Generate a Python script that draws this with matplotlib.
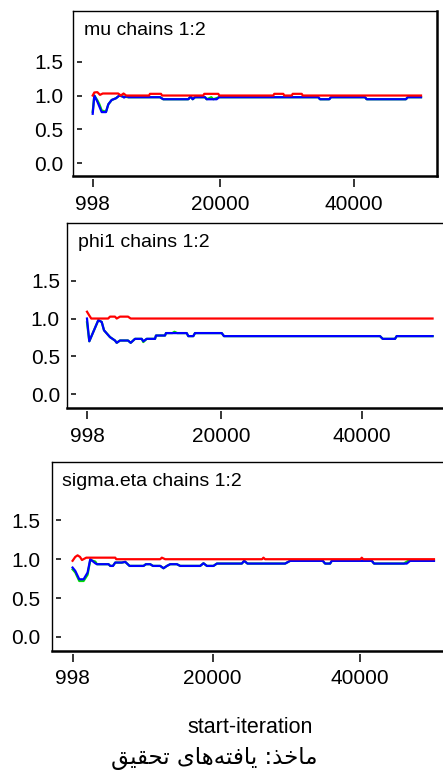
import matplotlib
matplotlib.use('Agg')
import matplotlib.pyplot as plt
from matplotlib.transforms import offset_copy

plt.rcParams['font.family'] = ['Liberation Sans', 'DejaVu Sans']

W, H = 443, 774

# ---------------- data ----------------
x_ticks = [998, 20000, 40000]
x_tick_labels = ['998', '20000', '40000']
y_ticks = [0.0, 0.5, 1.0, 1.5]
y_tick_labels = ['0.0', '0.5', '1.0', '1.5']

titles = ['mu chains 1:2', 'phi1 chains 1:2', 'sigma.eta chains 1:2']

# mu
mu_blue_it = [998, 1240, 1690, 2340, 2980, 3330, 3830, 4480, 4970, 5475, 5670, 6070, 6310,
              11040, 11530, 15270, 15620, 15920, 16260, 17760, 18010, 19500, 19850,
              34670, 34920, 36310, 36560, 41640, 41890, 47750, 48010, 50000]
mu_blue = [0.73, 1.0, 0.91, 0.755, 0.755, 0.87, 0.934, 0.96, 1.0, 0.985, 0.97, 0.99, 0.975,
           0.975, 0.945, 0.945, 0.985, 0.945, 0.975, 0.975, 0.945, 0.945, 0.975,
           0.975, 0.945, 0.945, 0.975, 0.975, 0.945, 0.945, 0.975, 0.975]
mu_green_it = [998, 1240, 1690, 2000, 2340, 2980, 3330, 3830, 4480, 4970, 5475, 6310,
               11040, 11530, 15270, 15620, 15920, 16260, 17760, 18010, 18700, 19000, 19850,
               34670, 34920, 36310, 36560, 41640, 41890, 47750, 48010, 50000]
mu_green = [0.76, 1.0, 0.93, 0.87, 0.78, 0.76, 0.87, 0.934, 0.96, 1.0, 0.985, 0.975,
            0.975, 0.945, 0.945, 0.985, 0.945, 0.975, 0.975, 0.945, 0.975, 0.945, 0.975,
            0.975, 0.945, 0.945, 0.975, 0.975, 0.945, 0.945, 0.975, 0.975]
mu_red_it = [998, 1240, 1690, 2090, 2500, 4800, 5200, 5600, 6000, 9400, 9550, 11190, 11350,
             17500, 17650, 19740, 19900, 27950, 28100, 29440, 29600, 30700, 30850, 32190, 32350, 50000]
mu_red = [1.0, 1.045, 1.05, 1.01, 1.03, 1.03, 1.0, 1.03, 1.0, 1.0, 1.025, 1.025, 1.0,
          1.0, 1.025, 1.025, 1.0, 1.0, 1.025, 1.025, 1.0, 1.0, 1.025, 1.025, 1.0, 1.0]

# phi1
phi_blue_it = [998, 1324, 2600, 3083, 3409, 3834, 4260, 4968, 5210, 5677, 6812, 7195, 7804,
               8755, 8981, 9463, 10640, 10782, 12058, 12200, 15135, 15363, 16071, 16312,
               20098, 20425, 42545, 42928, 44672, 44913, 50000]
phi_blue = [1.0, 0.70, 0.978, 0.955, 0.845, 0.80, 0.755, 0.71, 0.68, 0.71, 0.71, 0.68, 0.732,
            0.732, 0.70, 0.732, 0.732, 0.776, 0.776, 0.808, 0.808, 0.768, 0.768, 0.808,
            0.808, 0.768, 0.768, 0.732, 0.732, 0.768, 0.768]
phi_green_it = [998, 1324, 2600, 3083, 3409, 3834, 4260, 4968, 5210, 5677, 6812, 7195, 7804,
                8755, 8981, 9463, 10640, 10782, 12058, 12200, 13100, 13400, 13800, 15135, 15363,
                16071, 16312, 20098, 20425, 42545, 42928, 44672, 44913, 50000]
phi_green = [0.95, 0.70, 0.978, 0.955, 0.845, 0.80, 0.755, 0.71, 0.68, 0.71, 0.71, 0.68, 0.732,
             0.732, 0.69, 0.732, 0.732, 0.776, 0.776, 0.808, 0.808, 0.825, 0.808, 0.808, 0.768,
             0.768, 0.808, 0.808, 0.768, 0.768, 0.732, 0.732, 0.768, 0.768]
phi_red_it = [998, 1324, 1600, 4000, 4260, 4968, 5210, 5677, 6812, 7195, 50000]
phi_red = [1.09, 1.04, 1.0, 1.0, 1.025, 1.025, 1.0, 1.025, 1.025, 1.0, 1.0]

# sigma.eta
sig_blue_it = [998, 1364, 1906, 2489, 3031, 3396, 4074, 4304, 5876, 6106, 6472, 6784, 7692,
               8139, 8722, 10619, 10944, 11526, 11892, 12881, 13329, 13789, 14236, 15144,
               15591, 18301, 18749, 19209, 20104, 20564, 23951, 24263, 24711, 29819, 30496,
               34927, 35239, 35916, 36147, 41567, 41879, 46310, 46757, 50000]
sig_blue = [0.893, 0.85, 0.742, 0.742, 0.828, 1.0, 0.948, 0.936, 0.936, 0.914, 0.914, 0.957, 0.957,
            0.966, 0.914, 0.914, 0.936, 0.936, 0.914, 0.914, 0.884, 0.914, 0.936, 0.936,
            0.914, 0.914, 0.948, 0.914, 0.914, 0.944, 0.944, 0.979, 0.944, 0.944, 0.979,
            0.979, 0.944, 0.944, 0.979, 0.979, 0.944, 0.944, 0.979, 0.979]
sig_green_it = [998, 1364, 1906, 2489, 3031, 3396, 4074, 4304, 5876, 6106, 6472, 6784, 7692,
                8139, 8722, 10619, 10944, 11526, 11892, 12881, 13329, 13789, 14236, 15144,
                15591, 18301, 18749, 19209, 20104, 20564, 23951, 24263, 24711, 29819, 30496,
                34927, 35239, 35916, 36147, 41567, 41879, 45900, 46500, 50000]
sig_green = [0.87, 0.83, 0.72, 0.72, 0.80, 0.99, 0.97, 0.936, 0.936, 0.914, 0.914, 0.957, 0.957,
             0.966, 0.914, 0.914, 0.936, 0.936, 0.914, 0.914, 0.884, 0.914, 0.936, 0.936,
             0.914, 0.914, 0.948, 0.914, 0.914, 0.944, 0.944, 0.979, 0.944, 0.944, 0.979,
             0.979, 0.944, 0.944, 0.979, 0.979, 0.944, 0.944, 0.979, 0.979]
sig_red_it = [998, 1364, 1676, 2000, 2272, 2854, 6784, 6919, 12881, 13100, 13559,
              26700, 26878, 27100, 40050, 40212, 40400, 50000]
sig_red = [0.98, 1.03, 1.05, 1.03, 0.99, 1.02, 1.02, 1.0, 1.0, 1.02, 1.0,
           1.0, 1.02, 1.0, 1.0, 1.02, 1.0, 1.0]

series_green = [(mu_green_it, mu_green), (phi_green_it, phi_green), (sig_green_it, sig_green)]
series_blue = [(mu_blue_it, mu_blue), (phi_blue_it, phi_blue), (sig_blue_it, sig_blue)]
series_red = [(mu_red_it, mu_red), (phi_red_it, phi_red), (sig_red_it, sig_red)]

x_label = 'start-iteration'
# Persian caption "ماخذ: یافته‌های تحقیق" in shaped presentation forms, visual order
caption = ('\uFED6\uFEF4\uFED8\uFEA4\uFE97 '
           '\uFEEF\uFE8E\uFEEB\uFEEA\uFE98\uFED3\uFE8E\uFEF3 '
           ':\uFEAC\uFEA7\uFE8E\uFEE3')

# ---------------- layout (pixels) ----------------
boxes = [(73, 11, 437, 176), (67, 223, 447, 408), (52, 462, 450, 651)]
xlims = [(-1942, 52385), (-1838, 52046), (-1793, 52176)]
ylims = [(-0.19, 2.25), (-0.18, 2.26), (-0.18, 2.25)]
ylab_gaps = [10, 7, 11.5]

fig = plt.figure(figsize=(W / 100, H / 100), dpi=100)
PT = 0.72  # points per pixel at 100 dpi

for i in range(3):
    l, t, r, b = boxes[i]
    wpx, hpx = r - l, b - t
    ax = fig.add_axes([l / W, 1 - b / H, wpx / W, hpx / H])
    ax.set_xlim(*xlims[i])
    ax.set_ylim(*ylims[i])
    gx, gy = series_green[i]
    bx, by = series_blue[i]
    rx, ry = series_red[i]
    ax.plot(gx, gy, color='#00e000', lw=1.6)
    ax.plot(bx, by, color='#0000ff', lw=1.6)
    ax.plot(rx, ry, color='#ff0000', lw=1.6)
    ax.tick_params(which='both', length=0, labelbottom=False, labelleft=False)
    ax.spines['left'].set_linewidth(1.0)
    ax.spines['top'].set_linewidth(1.0)
    ax.spines['right'].set_linewidth(1.8)
    ax.spines['bottom'].set_linewidth(1.8)

    sx = ax.secondary_xaxis(-2.5 / hpx)
    for sp in sx.spines.values():
        sp.set_visible(False)
    sx.set_xticks(x_ticks, x_tick_labels)
    sx.tick_params(direction='out', length=7.5 * PT, width=1.1, pad=8.5 * PT, labelsize=15)

    sy = ax.secondary_yaxis(3.5 / wpx)
    for sp in sy.spines.values():
        sp.set_visible(False)
    sy.set_yticks(y_ticks, y_tick_labels)
    sy.tick_params(direction='in', length=4.5 * PT, width=1.1,
                   pad=(3.5 + ylab_gaps[i]) * PT, labelsize=15)

    ax.text(0, 1, titles[i],
            transform=offset_copy(ax.transAxes, fig=fig, x=10.5, y=-24, units='dots'),
            ha='left', va='baseline', fontsize=14)

fig.text(250 / W, 1 - 733 / H, x_label, ha='center', va='baseline', fontsize=15.5)
fig.text(214 / W, 1 - 764 / H, caption, ha='center', va='baseline', fontsize=16.5,
         family=['DejaVu Sans', 'Noto Sans'])

fig.savefig('out.png', dpi=100)
